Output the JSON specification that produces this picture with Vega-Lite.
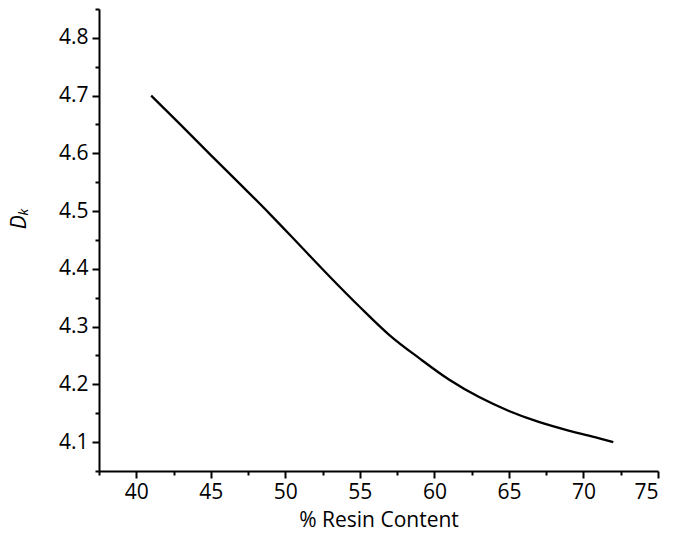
{
  "$schema": "https://vega.github.io/schema/vega-lite/v6.json",
  "autosize": "none",
  "width": 559,
  "height": 462,
  "padding": {"left": 99, "top": 9, "right": 16, "bottom": 65},
  "background": "white",
  "config": {
    "view": {"stroke": null},
    "font": "Open Sans",
    "axis": {
      "grid": false,
      "domainColor": "black",
      "domainWidth": 2,
      "tickColor": "black",
      "tickWidth": 2,
      "labelColor": "black",
      "titleColor": "black",
      "labelFont": "Open Sans",
      "titleFont": "Open Sans",
      "labelFontSize": 21,
      "titleFontSize": 21,
      "titleFontWeight": "normal"
    }
  },
  "data": {
    "values": [
      {"resin": 41, "dk": 4.700},
      {"resin": 43, "dk": 4.649},
      {"resin": 45, "dk": 4.597},
      {"resin": 47, "dk": 4.546},
      {"resin": 49, "dk": 4.494},
      {"resin": 51, "dk": 4.440},
      {"resin": 53, "dk": 4.386},
      {"resin": 55, "dk": 4.334},
      {"resin": 57, "dk": 4.285},
      {"resin": 59, "dk": 4.245},
      {"resin": 61, "dk": 4.208},
      {"resin": 63, "dk": 4.178},
      {"resin": 65, "dk": 4.154},
      {"resin": 67, "dk": 4.135},
      {"resin": 69, "dk": 4.120},
      {"resin": 71, "dk": 4.107},
      {"resin": 72, "dk": 4.100}
    ]
  },
  "mark": {"type": "line", "color": "black", "strokeWidth": 2.3, "interpolate": "monotone"},
  "encoding": {
    "x": {
      "field": "resin",
      "type": "quantitative",
      "scale": {"domain": [37.5, 75], "nice": false, "zero": false},
      "axis": {
        "title": "% Resin Content",
        "values": [37.5, 40, 42.5, 45, 47.5, 50, 52.5, 55, 57.5, 60, 62.5, 65, 67.5, 70, 72.5, 75],
        "labelExpr": "datum.value % 5 == 0 ? datum.label : ''",
        "tickSize": {"condition": {"test": "datum.value % 5 == 0", "value": 7}, "value": 4},
        "labelPadding": 3,
        "titlePadding": 7
      }
    },
    "y": {
      "field": "dk",
      "type": "quantitative",
      "scale": {"domain": [4.05, 4.85], "nice": false, "zero": false},
      "axis": {
        "title": "Dₖ",
        "titleFontStyle": "italic",
        "titleFontSize": 21,
        "titleY": 209,
        "values": [4.05, 4.1, 4.15, 4.2, 4.25, 4.3, 4.35, 4.4, 4.45, 4.5, 4.55, 4.6, 4.65, 4.7, 4.75, 4.8, 4.85],
        "format": ".1f",
        "labelExpr": "abs(datum.value * 10 - round(datum.value * 10)) < 0.001 ? datum.label : ''",
        "tickSize": {"condition": {"test": "abs(datum.value * 10 - round(datum.value * 10)) < 0.001", "value": 7}, "value": 4},
        "labelPadding": 4,
        "titlePadding": 29
      }
    }
  }
}
